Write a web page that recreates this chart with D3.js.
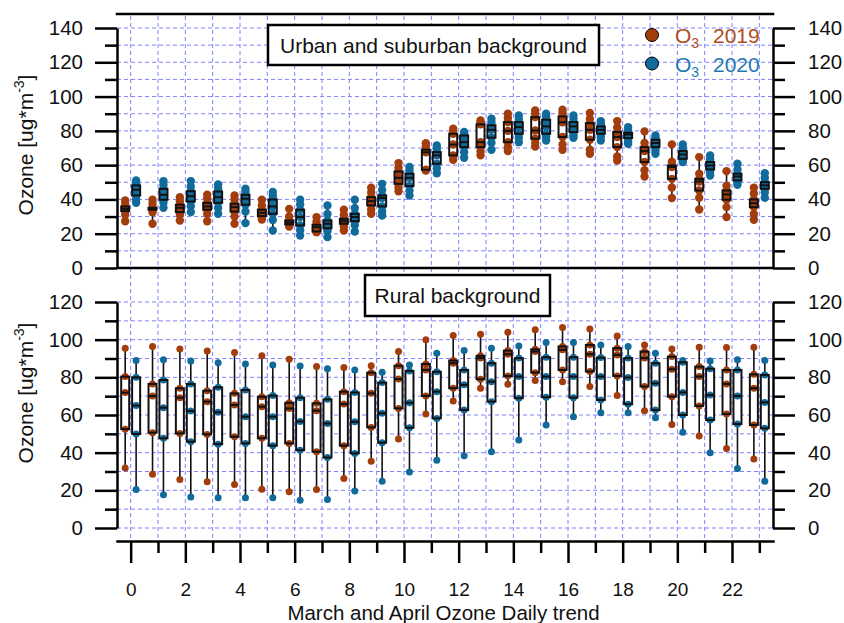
<!DOCTYPE html>
<html>
<head>
<meta charset="utf-8">
<script src="https://cdn.jsdelivr.net/npm/d3@7"></script>
<style>
  html, body { margin: 0; padding: 0; background: #fff; }
  svg { display: block; font-family: "Liberation Sans", Arial, sans-serif; }
</style>
</head>
<body>
<svg id="chart" width="844" height="623"></svg>
<script>
// ---- Data: hourly ozone (ug/m3), March-April, 2019 vs 2020 ----
const hours = [0,1,2,3,4,5,6,7,8,9,10,11,12,13,14,15,16,17,18,19,20,21,22,23];
const xTickLabels = [0,2,4,6,8,10,12,14,16,18,20,22];
const yTicksTop = [0,20,40,60,80,100,120,140];
const yTicksBottom = [0,20,40,60,80,100,120];

// Urban and suburban background, 2019
const urban2019Min = [27.3,25.8,27.7,27.3,25.8,28.3,24.2,20.9,21.9,31.6,44.8,56.9,63.1,65.7,68.2,70.9,69.0,66.6,62.7,53.4,40.8,34.1,29.7,28.1];
const urban2019P10 = [31.0,32.5,31.0,31.5,30.0,29.5,24.8,21.1,24.0,34.0,47.0,57.1,65.0,68.0,70.5,73.0,72.0,69.0,65.0,57.0,47.0,41.0,35.5,31.5];
const urban2019Q1  = [33.2,34.0,32.6,34.0,32.9,30.3,25.4,21.3,25.8,36.5,49.1,57.3,65.7,70.5,73.4,75.4,76.4,74.8,70.5,61.8,52.0,45.2,39.8,35.5];
const urban2019Med = [34.5,34.5,35.1,35.9,35.5,32.2,26.4,23.8,27.3,39.0,52.6,67.5,72.0,73.4,80.0,80.2,85.0,80.6,76.4,68.2,58.9,50.5,42.9,37.8];
const urban2019Q3  = [35.9,35.1,36.9,38.0,37.5,34.0,27.7,25.2,28.7,41.3,56.3,69.0,78.3,83.8,85.1,88.0,88.4,84.5,79.3,70.5,59.8,52.0,45.2,40.0];
const urban2019P90 = [37.5,37.5,39.0,40.5,40.0,36.5,30.0,27.0,31.0,44.0,58.5,71.0,80.0,85.0,87.5,90.0,90.5,87.0,82.0,73.0,62.0,55.0,48.0,43.5];
const urban2019Max = [39.4,39.8,41.3,42.7,42.3,39.8,34.5,29.7,34.0,46.8,61.2,72.8,81.2,86.1,90.0,91.9,92.3,90.4,85.7,79.7,72.1,64.7,56.5,46.8];

// Urban and suburban background, 2020
const urban2020Min = [38.0,35.1,32.6,31.6,26.2,21.9,19.0,18.0,21.3,30.6,42.3,55.3,64.3,69.0,73.4,74.4,76.0,74.4,72.5,66.6,61.8,54.0,48.5,41.0];
const urban2020P10 = [40.0,38.0,36.0,35.0,33.0,28.0,22.0,21.5,25.0,33.0,45.0,58.0,67.5,73.0,76.0,76.5,77.5,76.5,74.0,68.5,62.5,56.0,50.0,44.0];
const urban2020Q1  = [42.3,39.8,38.8,38.0,36.9,31.6,24.8,23.2,27.3,35.9,47.8,60.8,70.5,76.0,78.3,78.3,79.3,78.3,75.8,70.5,63.7,57.5,51.1,46.2];
const urban2020Med = [45.6,42.7,41.9,41.3,40.4,35.9,29.7,25.8,29.7,40.8,52.6,65.7,73.4,80.6,82.2,82.6,82.6,80.6,77.9,72.9,66.2,59.8,53.4,48.2];
const urban2020Q3  = [48.2,46.2,44.8,44.6,42.7,40.0,34.0,27.7,31.6,42.3,55.0,67.6,77.3,83.2,85.1,86.5,85.1,82.6,78.9,74.8,68.2,61.8,55.0,50.1];
const urban2020P90 = [49.5,48.5,47.5,46.5,44.5,42.0,37.0,31.5,35.0,45.5,57.0,69.5,78.3,85.0,87.0,88.5,87.0,84.0,80.5,76.0,70.0,63.5,57.5,52.5];
const urban2020Max = [51.0,50.7,50.7,48.7,46.2,44.3,39.8,36.5,39.8,49.1,58.9,71.5,79.3,87.1,89.0,90.0,89.0,85.7,82.2,77.3,72.1,65.7,60.8,55.3];

// Rural background, 2019
const rural2019Min = [31.9,28.6,25.7,24.5,23.1,20.6,19.2,20.4,26.3,35.5,47.2,60.5,67.4,74.2,76.3,78.3,77.7,75.1,70.3,62.3,55.0,48.8,42.2,36.6];
const rural2019Q1  = [52.5,50.6,50.2,49.7,48.4,47.6,44.9,40.5,43.7,53.4,63.5,70.1,74.2,79.0,80.7,82.5,83.9,83.1,80.7,75.1,69.7,64.8,60.5,54.7];
const rural2019Med = [71.9,70.1,69.2,67.1,65.3,64.4,63.5,62.3,65.8,71.5,79.1,83.9,87.5,90.2,92.3,93.7,94.6,92.3,91.9,90.2,84.3,80.4,76.5,74.2];
const rural2019Q3  = [80.4,76.5,74.2,72.9,71.5,69.7,66.5,66.2,72.4,82.5,86.2,87.1,88.9,91.4,94.2,94.9,96.4,97.2,95.5,93.7,91.0,85.7,83.9,81.6];
const rural2019Max = [95.5,96.4,95.1,94.0,93.2,91.4,89.6,85.7,85.2,86.2,93.7,99.9,102.2,102.9,104.0,105.2,106.5,105.6,102.0,97.2,95.1,96.0,95.8,96.0];

// Rural background, 2020
const rural2020Min = [20.4,17.7,16.5,16.0,16.0,16.0,14.7,15.1,19.7,24.8,29.8,36.0,38.3,40.5,46.7,54.7,59.1,61.2,61.2,58.6,50.8,39.9,31.6,24.8];
const rural2020Q1  = [49.9,47.6,45.8,44.5,44.9,43.7,41.3,37.4,39.6,45.3,53.2,58.2,62.6,67.1,68.9,69.4,69.2,68.0,65.7,62.6,60.0,57.3,55.2,52.9];
const rural2020Med = [65.0,63.9,62.1,61.4,59.1,59.1,56.6,55.5,56.4,60.9,66.5,72.4,76.0,77.7,80.4,80.4,80.4,80.4,79.9,76.8,72.0,70.6,70.1,66.7];
const rural2020Q3  = [80.0,78.6,76.5,74.7,73.3,70.3,69.2,68.3,72.0,77.2,83.4,83.0,83.9,87.5,90.2,90.7,90.7,90.5,90.2,87.5,88.0,84.6,83.9,81.3];
const rural2020Max = [88.9,89.3,88.7,87.8,87.1,86.6,86.0,84.5,83.9,82.7,86.6,92.8,94.2,95.5,96.7,98.5,98.5,97.2,96.4,92.8,88.9,88.7,89.3,88.9];

const seriesNames = ["2019", "2020"];
const dotColors  = { "2019": "#a33d0c", "2020": "#106b9b" };
const textColors = { "2019": "#b04d1c", "2020": "#1d78b3" };

// ---- Layout ----
const svg = d3.select("#chart");
const x = d3.scaleLinear().domain([-0.5, 23.5]).range([117, 773]);
const yTop = d3.scaleLinear().domain([0, 140]).range([268, 28]);
const yBot = d3.scaleLinear().domain([0, 120]).range([528, 302]);
const axisTopY = 14, axisBottomY = 541;
const gridColor = "#6c6cff";

// ---- Grid ----
const grid = svg.append("g").attr("stroke", gridColor).attr("stroke-width", 1)
  .attr("stroke-dasharray", "4 3").attr("opacity", 0.85);
grid.selectAll("line.v").data(hours).join("line").attr("class", "v")
  .attr("x1", d => x(d)).attr("x2", d => x(d))
  .attr("y1", axisTopY + 2).attr("y2", axisBottomY - 2);
grid.selectAll("line.ht").data(d3.range(10, 141, 10)).join("line").attr("class", "ht")
  .attr("x1", x.range()[0]).attr("x2", x.range()[1])
  .attr("y1", d => yTop(d)).attr("y2", d => yTop(d));
grid.selectAll("line.hb").data(d3.range(0, 121, 10)).join("line").attr("class", "hb")
  .attr("x1", x.range()[0]).attr("x2", x.range()[1])
  .attr("y1", d => yBot(d)).attr("y2", d => yBot(d));

// ---- Frame lines ----
svg.append("line").attr("x1", x.range()[0]).attr("x2", x.range()[1])
  .attr("y1", axisTopY).attr("y2", axisTopY)
  .attr("stroke", "#000").attr("stroke-width", 2.5).attr("stroke-linecap", "square");
svg.append("line").attr("x1", x.range()[0]).attr("x2", x.range()[1])
  .attr("y1", yTop(0)).attr("y2", yTop(0))
  .attr("stroke", "#000").attr("stroke-width", 2.5);

// ---- Axes ----
function styleAxis(g, fontSize) {
  g.select(".domain").attr("stroke", "#000").attr("stroke-width", 2.5);
  g.selectAll(".tick line").attr("stroke", "#000").attr("stroke-width", 2.5);
  g.selectAll(".tick text").attr("fill", "#111").style("font-size", fontSize + "px")
    .style("font-family", "'Liberation Sans', Arial, sans-serif");
}
function yAxes(scale, majors) {
  const minors = d3.range(10, scale.domain()[1], 20);
  const left = svg.append("g").attr("transform", `translate(${x.range()[0]},0)`);
  left.call(d3.axisLeft(scale).tickValues(majors).tickSize(22).tickPadding(12).tickSizeOuter(0));
  left.append("g").call(d3.axisLeft(scale).tickValues(minors).tickSize(12).tickFormat("").tickSizeOuter(0))
    .select(".domain").remove();
  styleAxis(left, 20.5);
  const right = svg.append("g").attr("transform", `translate(${x.range()[1]},0)`);
  right.call(d3.axisRight(scale).tickValues(majors).tickSize(22).tickPadding(13).tickSizeOuter(0));
  right.append("g").call(d3.axisRight(scale).tickValues(minors).tickSize(12).tickFormat("").tickSizeOuter(0))
    .select(".domain").remove();
  styleAxis(right, 20.5);
}
yAxes(yTop, yTicksTop);
yAxes(yBot, yTicksBottom);

const xAxisG = svg.append("g").attr("transform", `translate(0,${axisBottomY})`);
xAxisG.call(d3.axisBottom(x).tickValues(xTickLabels).tickSize(22).tickPadding(19.5).tickSizeOuter(0));
xAxisG.append("g").call(d3.axisBottom(x).tickValues(hours.filter(h => h % 2 === 1))
  .tickSize(12).tickFormat("").tickSizeOuter(0)).select(".domain").remove();
styleAxis(xAxisG, 19);
xAxisG.select(".domain").attr("stroke-linecap", "square");

// ---- Box plots ----
const topSeries = {
  "2019": hours.map((h, i) => ({ h, min: urban2019Min[i], p10: urban2019P10[i], q1: urban2019Q1[i], med: urban2019Med[i], q3: urban2019Q3[i], p90: urban2019P90[i], max: urban2019Max[i] })),
  "2020": hours.map((h, i) => ({ h, min: urban2020Min[i], p10: urban2020P10[i], q1: urban2020Q1[i], med: urban2020Med[i], q3: urban2020Q3[i], p90: urban2020P90[i], max: urban2020Max[i] }))
};
const bottomSeries = {
  "2019": hours.map((h, i) => ({ h, min: rural2019Min[i], q1: rural2019Q1[i], med: rural2019Med[i], q3: rural2019Q3[i], max: rural2019Max[i] })),
  "2020": hours.map((h, i) => ({ h, min: rural2020Min[i], q1: rural2020Q1[i], med: rural2020Med[i], q3: rural2020Q3[i], max: rural2020Max[i] }))
};
const offsets = { "2019": -0.2, "2020": 0.2 };
const boxHalf = 4;

function drawBoxes(y, data, name, dotKeys, r) {
  const g = svg.append("g");
  const cx = d => x(d.h + offsets[name]);
  const items = g.selectAll("g").data(data).join("g");
  items.append("line").attr("x1", cx).attr("x2", cx)
    .attr("y1", d => y(d.min)).attr("y2", d => y(d.max))
    .attr("stroke", "#111").attr("stroke-width", 1.6);
  items.append("rect").attr("x", d => cx(d) - boxHalf).attr("width", boxHalf * 2)
    .attr("y", d => y(d.q3)).attr("height", d => y(d.q1) - y(d.q3))
    .attr("fill", "#fff");
  items.each(function(d) {
    d3.select(this).selectAll("circle").data(dotKeys.map(k => d[k])).join("circle")
      .attr("cx", cx(d)).attr("cy", v => y(v)).attr("r", r)
      .attr("fill", dotColors[name]);
  });
  items.append("rect").attr("x", d => cx(d) - boxHalf).attr("width", boxHalf * 2)
    .attr("y", d => y(d.q3)).attr("height", d => y(d.q1) - y(d.q3))
    .attr("fill", "none").attr("stroke", "#111").attr("stroke-width", 2);
  items.append("line").attr("x1", d => cx(d) - boxHalf).attr("x2", d => cx(d) + boxHalf)
    .attr("y1", d => y(d.med)).attr("y2", d => y(d.med))
    .attr("stroke", "#111").attr("stroke-width", 2);
}
seriesNames.forEach(n => drawBoxes(yTop, topSeries[n], n, ["min", "p10", "q1", "med", "q3", "p90", "max"], 4.2));
seriesNames.forEach(n => drawBoxes(yBot, bottomSeries[n], n, ["min", "q1", "med", "q3", "max"], 3.5));

// ---- Panel titles ----
function titleBox(cx, cy, w, h, label) {
  svg.append("rect").attr("x", cx - w / 2).attr("y", cy - h / 2).attr("width", w).attr("height", h)
    .attr("fill", "#fff").attr("stroke", "#000").attr("stroke-width", 2.5);
  svg.append("text").attr("x", cx).attr("y", cy + 7.5).attr("text-anchor", "middle")
    .style("font-size", "21px").attr("fill", "#111").text(label);
}
titleBox(433.5, 45, 331, 40, "Urban and suburban background");
titleBox(457.5, 295.5, 185, 41, "Rural background");

// ---- Legend ----
const legend = svg.append("g");
seriesNames.forEach((n, i) => {
  const cy = 35 + i * 28.5;
  legend.append("circle").attr("cx", 652).attr("cy", cy).attr("r", 6.5)
    .attr("fill", dotColors[n]).attr("stroke", "#000").attr("stroke-width", 1);
  const t = legend.append("text").attr("x", 675).attr("y", cy + 8)
    .style("font-size", "21px").attr("fill", textColors[n]);
  t.append("tspan").text("O");
  t.append("tspan").attr("dy", 5).style("font-size", "14px").text("3");
  t.append("tspan").attr("x", 713).attr("dy", -5).text(n);
});

// ---- Axis titles ----
function yTitle(cx, cy) {
  const t = svg.append("text").attr("transform", `translate(${cx},${cy}) rotate(-90)`)
    .attr("text-anchor", "middle").style("font-size", "21px").attr("fill", "#111");
  t.append("tspan").text("Ozone [ug*m");
  t.append("tspan").attr("dy", -9).style("font-size", "14px").text("-3");
  t.append("tspan").attr("dy", 9).text("]");
}
yTitle(33, 145);
yTitle(33, 393);

svg.append("text").attr("x", 443.5).attr("y", 620).attr("text-anchor", "middle")
  .style("font-size", "20.5px").attr("fill", "#111").text("March and April Ozone Daily trend");
</script>
</body>
</html>
